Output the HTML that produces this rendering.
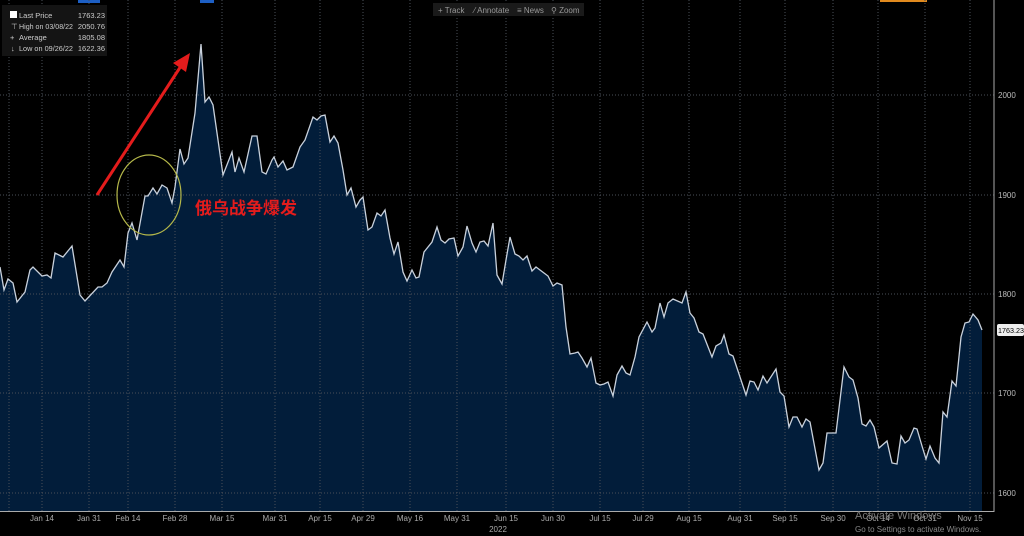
<!DOCTYPE html>
<html><head><meta charset="utf-8"><style>
html,body{margin:0;padding:0;background:#000;width:1024px;height:536px;overflow:hidden}
svg{display:block}
text{font-family:"Liberation Sans","Noto Sans CJK SC",sans-serif}
</style></head><body>
<svg width="1024" height="536" viewBox="0 0 1024 536" xmlns="http://www.w3.org/2000/svg">
<rect width="1024" height="536" fill="#000"/>
<rect x="78" y="0" width="22" height="3" fill="#1d5fc4"/>
<rect x="200" y="0" width="14" height="3" fill="#1d5fc4"/>
<rect x="880" y="0" width="47" height="2" fill="#e08a1e"/>
<path id="pr" d="M0,267 L4,290 L8,279 L13,283 L17,302 L25,292 L30,270 L33,267 L42,276 L47,275 L51,278 L55,253 L63,257 L72,246 L80,295 L85,301 L98,287 L102,287 L107,283 L112,272 L120,260 L124,267 L128,233 L132,223 L137,240 L145,196 L148,196 L153,188 L157,194 L162,185 L167,188 L172,203 L175,187 L180,149 L184,164 L188,158 L195,113 L201,44 L205,102 L209,97 L213,105 L223,175 L232,152 L235,172 L239,158 L244,172 L252,136 L257,136 L262,172 L266,174 L272,160 L274,157 L278,167 L283,161 L287,170 L293,167 L300,147 L305,140 L313,117 L317,120 L321,116 L325,115 L330,142 L334,136 L338,143 L343,170 L347,195 L351,188 L356,207 L360,200 L363,197 L368,230 L372,227 L377,213 L381,216 L385,210 L390,238 L394,254 L398,242 L403,272 L407,281 L412,270 L416,278 L419,277 L424,252 L432,242 L437,227 L441,240 L445,243 L449,239 L454,238 L458,256 L463,247 L467,226 L472,243 L476,252 L480,242 L484,241 L488,246 L493,223 L497,275 L502,284 L506,260 L510,237 L515,254 L519,256 L523,260 L527,256 L532,271 L536,267 L540,270 L544,273 L548,276 L553,286 L557,283 L562,285 L566,327 L570,354 L575,353 L578,352 L582,358 L587,367 L591,358 L596,383 L600,385 L604,384 L608,382 L613,396 L617,375 L622,366 L626,373 L630,375 L635,357 L639,337 L647,322 L652,332 L655,328 L660,303 L664,317 L668,303 L673,299 L682,303 L686,292 L690,313 L694,318 L699,332 L703,334 L712,357 L716,346 L721,343 L724,335 L729,354 L733,356 L746,395 L750,381 L754,382 L758,390 L763,376 L767,383 L776,369 L780,392 L784,396 L789,427 L793,417 L797,417 L802,427 L806,419 L810,422 L819,470 L823,463 L827,433 L836,433 L844,367 L849,377 L853,380 L858,398 L862,424 L866,426 L870,420 L874,427 L879,448 L887,441 L892,463 L897,464 L901,436 L905,443 L909,440 L914,428 L917,429 L922,446 L926,459 L930,446 L935,458 L939,463 L943,412 L947,417 L952,381 L956,386 L961,337 L965,323 L969,322 L973,314 L978,320 L982,330" fill="none"/>
<path d="M0,267 L4,290 L8,279 L13,283 L17,302 L25,292 L30,270 L33,267 L42,276 L47,275 L51,278 L55,253 L63,257 L72,246 L80,295 L85,301 L98,287 L102,287 L107,283 L112,272 L120,260 L124,267 L128,233 L132,223 L137,240 L145,196 L148,196 L153,188 L157,194 L162,185 L167,188 L172,203 L175,187 L180,149 L184,164 L188,158 L195,113 L201,44 L205,102 L209,97 L213,105 L223,175 L232,152 L235,172 L239,158 L244,172 L252,136 L257,136 L262,172 L266,174 L272,160 L274,157 L278,167 L283,161 L287,170 L293,167 L300,147 L305,140 L313,117 L317,120 L321,116 L325,115 L330,142 L334,136 L338,143 L343,170 L347,195 L351,188 L356,207 L360,200 L363,197 L368,230 L372,227 L377,213 L381,216 L385,210 L390,238 L394,254 L398,242 L403,272 L407,281 L412,270 L416,278 L419,277 L424,252 L432,242 L437,227 L441,240 L445,243 L449,239 L454,238 L458,256 L463,247 L467,226 L472,243 L476,252 L480,242 L484,241 L488,246 L493,223 L497,275 L502,284 L506,260 L510,237 L515,254 L519,256 L523,260 L527,256 L532,271 L536,267 L540,270 L544,273 L548,276 L553,286 L557,283 L562,285 L566,327 L570,354 L575,353 L578,352 L582,358 L587,367 L591,358 L596,383 L600,385 L604,384 L608,382 L613,396 L617,375 L622,366 L626,373 L630,375 L635,357 L639,337 L647,322 L652,332 L655,328 L660,303 L664,317 L668,303 L673,299 L682,303 L686,292 L690,313 L694,318 L699,332 L703,334 L712,357 L716,346 L721,343 L724,335 L729,354 L733,356 L746,395 L750,381 L754,382 L758,390 L763,376 L767,383 L776,369 L780,392 L784,396 L789,427 L793,417 L797,417 L802,427 L806,419 L810,422 L819,470 L823,463 L827,433 L836,433 L844,367 L849,377 L853,380 L858,398 L862,424 L866,426 L870,420 L874,427 L879,448 L887,441 L892,463 L897,464 L901,436 L905,443 L909,440 L914,428 L917,429 L922,446 L926,459 L930,446 L935,458 L939,463 L943,412 L947,417 L952,381 L956,386 L961,337 L965,323 L969,322 L973,314 L978,320 L982,330 L982,511 L0,511 Z" fill="#021d3a"/>
<g stroke="#4a4f58" stroke-width="1" stroke-dasharray="1,2">
<line x1="0" y1="95" x2="994" y2="95"/><line x1="0" y1="195" x2="994" y2="195"/><line x1="0" y1="294" x2="994" y2="294"/><line x1="0" y1="393" x2="994" y2="393"/><line x1="0" y1="493" x2="994" y2="493"/>
<line x1="9" y1="0" x2="9" y2="511"/><line x1="42" y1="0" x2="42" y2="511"/><line x1="89" y1="0" x2="89" y2="511"/><line x1="128" y1="0" x2="128" y2="511"/><line x1="175" y1="0" x2="175" y2="511"/><line x1="222" y1="0" x2="222" y2="511"/><line x1="275" y1="0" x2="275" y2="511"/><line x1="320" y1="0" x2="320" y2="511"/><line x1="363" y1="0" x2="363" y2="511"/><line x1="410" y1="0" x2="410" y2="511"/><line x1="457" y1="0" x2="457" y2="511"/><line x1="506" y1="0" x2="506" y2="511"/><line x1="553" y1="0" x2="553" y2="511"/><line x1="600" y1="0" x2="600" y2="511"/><line x1="643" y1="0" x2="643" y2="511"/><line x1="689" y1="0" x2="689" y2="511"/><line x1="740" y1="0" x2="740" y2="511"/><line x1="785" y1="0" x2="785" y2="511"/><line x1="833" y1="0" x2="833" y2="511"/><line x1="878" y1="0" x2="878" y2="511"/><line x1="925" y1="0" x2="925" y2="511"/><line x1="970" y1="0" x2="970" y2="511"/>
</g>
<use href="#pr" stroke="#c9d1dc" stroke-width="1.3"/>
<line x1="994" y1="0" x2="994" y2="512" stroke="#aaa" stroke-width="1"/>
<line x1="0" y1="511.5" x2="994" y2="511.5" stroke="#aaa" stroke-width="1"/>
<g fill="#bbb" font-size="8">
<text x="998" y="98">2000</text><text x="998" y="198">1900</text><text x="998" y="297">1800</text><text x="998" y="396">1700</text><text x="998" y="496">1600</text>
</g>
<rect x="997" y="324" width="27" height="12" fill="#eee" rx="2"/>
<text x="998" y="333" font-size="7.5" fill="#000" textLength="26" lengthAdjust="spacingAndGlyphs">1763.23</text>
<g fill="#aaa" font-size="8" text-anchor="middle">
<text x="42" y="521">Jan 14</text><text x="89" y="521">Jan 31</text><text x="128" y="521">Feb 14</text><text x="175" y="521">Feb 28</text><text x="222" y="521">Mar 15</text><text x="275" y="521">Mar 31</text><text x="320" y="521">Apr 15</text><text x="363" y="521">Apr 29</text><text x="410" y="521">May 16</text><text x="457" y="521">May 31</text><text x="506" y="521">Jun 15</text><text x="553" y="521">Jun 30</text><text x="600" y="521">Jul 15</text><text x="643" y="521">Jul 29</text><text x="689" y="521">Aug 15</text><text x="740" y="521">Aug 31</text><text x="785" y="521">Sep 15</text><text x="833" y="521">Sep 30</text><text x="878" y="521">Oct 14</text><text x="925" y="521">Oct 31</text><text x="970" y="521">Nov 15</text>
<text x="498" y="532">2022</text>
</g>
<text x="855" y="519" font-size="11" fill="#777">Activate Windows</text>
<text x="855" y="532" font-size="8" fill="#888">Go to Settings to activate Windows.</text>
<rect x="2" y="5" width="105" height="51" fill="#141414"/>
<g font-size="7.5" fill="#ccc">
<rect x="10" y="11" width="7" height="7" fill="#fff"/>
<text x="19" y="18">Last Price</text><text x="105" y="18" text-anchor="end">1763.23</text>
<text x="11" y="29">⊤</text><text x="19" y="29" textLength="54" lengthAdjust="spacingAndGlyphs">High on 03/08/22</text><text x="105" y="29" text-anchor="end">2050.76</text>
<text x="10" y="40">+</text><text x="19" y="40">Average</text><text x="105" y="40" text-anchor="end">1805.08</text>
<text x="11" y="51">↓</text><text x="19" y="51" textLength="54" lengthAdjust="spacingAndGlyphs">Low on 09/26/22</text><text x="105" y="51" text-anchor="end">1622.36</text>
</g>
<rect x="433" y="3" width="151" height="13" fill="#1a1a1a"/>
<g font-size="8" fill="#999"><text x="438" y="13">+ Track</text><text x="474" y="13">⁄ Annotate</text><text x="517" y="13">≡ News</text><text x="551" y="13">⚲ Zoom</text></g>
<ellipse cx="149" cy="195" rx="32" ry="40" fill="none" stroke="#b5b84a" stroke-width="1.2"/>
<line x1="97" y1="195" x2="181" y2="66" stroke="#e41c1c" stroke-width="3"/>
<polygon points="190,53 173,63 186,72" fill="#e41c1c"/>
<text x="195" y="214" font-size="17" font-weight="bold" fill="#e41c1c">俄乌战争爆发</text>
</svg>
</body></html>
